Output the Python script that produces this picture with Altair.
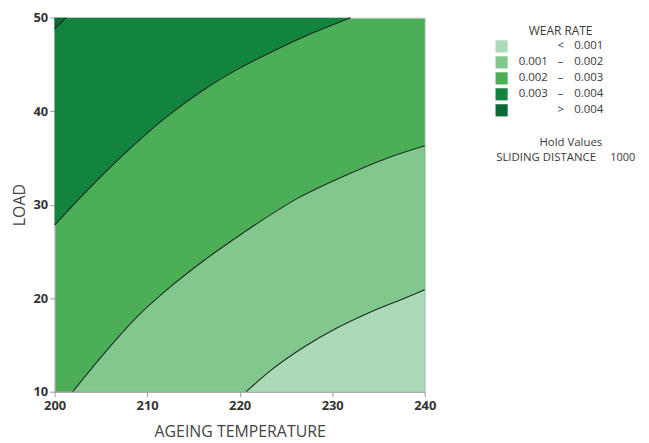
import altair as alt
import pandas as pd

# ---------------- data ----------------
X_DOMAIN = [200, 240]
Y_DOMAIN = [10, 50]
X_TICKS = [200, 210, 220, 230, 240]
Y_TICKS = [10, 20, 30, 40, 50]

# contour boundaries: AGEING TEMPERATURE (t) vs LOAD
B1_T = [220.7, 223.4, 227.0, 230.5, 234.1, 237.7, 240.0]          # 0.001
B1_L = [10.0, 12.3, 14.8, 16.8, 18.5, 19.95, 20.9]
B2_T = [201.96, 205.36, 208.9, 212.5, 216.1, 220.4, 226.3, 231.6, 236.0, 240.0]  # 0.002
B2_L = [10.0, 14.1, 18.0, 21.2, 24.0, 27.0, 30.7, 33.2, 35.0, 36.3]
B3_T = [200.0, 204.0, 208.0, 212.0, 216.0, 220.0, 224.0, 228.0, 232.0]  # 0.003
B3_L = [27.8, 32.0, 35.85, 39.3, 42.2, 44.6, 46.6, 48.4, 50.0]
B4_T = [200.0, 201.25]                                             # 0.004
B4_L = [48.8, 50.0]

BAND_COLORS = ["#acd9b7", "#82c78e", "#4caf58", "#12843f", "#0c6b34"]
LEG_LOW = ["", "0.001", "0.002", "0.003", ""]
LEG_SYM = ["<", "\u2013", "\u2013", "\u2013", ">"]
LEG_HIGH = ["0.001", "0.002", "0.003", "0.004", "0.004"]
LEG_TITLE = ["WEAR RATE"]
HOLD_TITLE = ["Hold Values"]
HOLD_NAME = ["SLIDING DISTANCE"]
HOLD_VALUE = ["1000"]

FONT = "Open Sans"
TEXT_COLOR = "#3a3a3a"
LINE_COLOR = "#1e2b23"


def bdf(ts, ls):
    return pd.DataFrame({"t": ts, "load": ls})


x_enc = alt.X(
    "t:Q",
    scale=alt.Scale(domain=X_DOMAIN, nice=False, zero=False),
    axis=alt.Axis(values=X_TICKS, title="AGEING TEMPERATURE", titlePadding=11,
                  labelPadding=3),
)
y_enc = alt.Y(
    "load:Q",
    scale=alt.Scale(domain=Y_DOMAIN, nice=False, zero=False),
    axis=alt.Axis(values=Y_TICKS, title="LOAD", titlePadding=6),
)


def area(ts, ls, color, edge):
    return alt.Chart(bdf(ts, ls)).mark_area(
        color=color, interpolate="monotone", orient="vertical", opacity=1
    ).encode(x=x_enc, y=y_enc, y2=alt.datum(edge))


def line(ts, ls):
    return alt.Chart(bdf(ts, ls)).mark_line(
        color=LINE_COLOR, strokeWidth=1.1, interpolate="monotone"
    ).encode(x=x_enc, y=y_enc)


layers = [
    area(B3_T, B3_L, BAND_COLORS[3], Y_DOMAIN[1]),
    area(B4_T, B4_L, BAND_COLORS[4], Y_DOMAIN[1]),
    area(B2_T, B2_L, BAND_COLORS[1], Y_DOMAIN[0]),
    area(B1_T, B1_L, BAND_COLORS[0], Y_DOMAIN[0]),
    line(B1_T, B1_L),
    line(B2_T, B2_L),
    line(B3_T, B3_L),
    line(B4_T, B4_L),
]

# ---------------- legend (placed in pixels right of the plot) ----------------
ROW_TOP = 29
ROW_STEP = 16.1
leg = pd.DataFrame({
    "i": list(range(len(LEG_HIGH))),
    "low": LEG_LOW,
    "sym": LEG_SYM,
    "high": LEG_HIGH,
    "col": BAND_COLORS,
})
leg["py"] = ROW_TOP + leg["i"] * ROW_STEP
py = alt.Y("py:Q", scale=None, axis=None)

swatches = alt.Chart(leg).mark_square(size=150, opacity=1).encode(
    x=alt.value(450.5), y=py, color=alt.Color("col:N", scale=None)
)


def legtext(field, xpos, align):
    return alt.Chart(leg).mark_text(
        align=align, baseline="middle", fontSize=11.5, font=FONT, color=TEXT_COLOR
    ).encode(x=alt.value(xpos), y=py, text=f"{field}:N")


def static_text(values, xpos, ypos, align, size=11.5):
    return alt.Chart(pd.DataFrame({"label": values})).mark_text(
        align=align, baseline="middle", fontSize=size, font=FONT, color=TEXT_COLOR
    ).encode(x=alt.value(xpos), y=alt.value(ypos), text="label:N")


layers += [
    swatches,
    legtext("low", 497, "right"),
    legtext("sym", 510, "center"),
    legtext("high", 553, "right"),
    static_text(LEG_TITLE, 510, 14, "center", 12),
    static_text(HOLD_TITLE, 552, 126, "right"),
    static_text(HOLD_NAME, 445, 141, "left"),
    static_text(HOLD_VALUE, 560, 141, "left", 11),
]

chart = alt.layer(*layers).properties(
    width=373,
    height=377,
    padding={"left": 47, "top": 8, "right": 218, "bottom": 48},
    autosize=alt.AutoSizeParams(type="none"),
).configure_view(
    fill=BAND_COLORS[2], stroke="#c8c8c8", strokeWidth=1
).configure_axis(
    grid=False,
    labelFlush=False,
    domainColor="#9a9a9a",
    tickColor="#9a9a9a",
    tickSize=5,
    labelFont=FONT,
    labelFontSize=13,
    labelFontWeight="bold",
    labelColor="#333333",
    labelPadding=2,
    titleFont=FONT,
    titleFontSize=16,
    titleFontWeight="normal",
    titleColor="#444444",
)

chart.save("out.html", embed_options={"renderer": "svg", "actions": False})
